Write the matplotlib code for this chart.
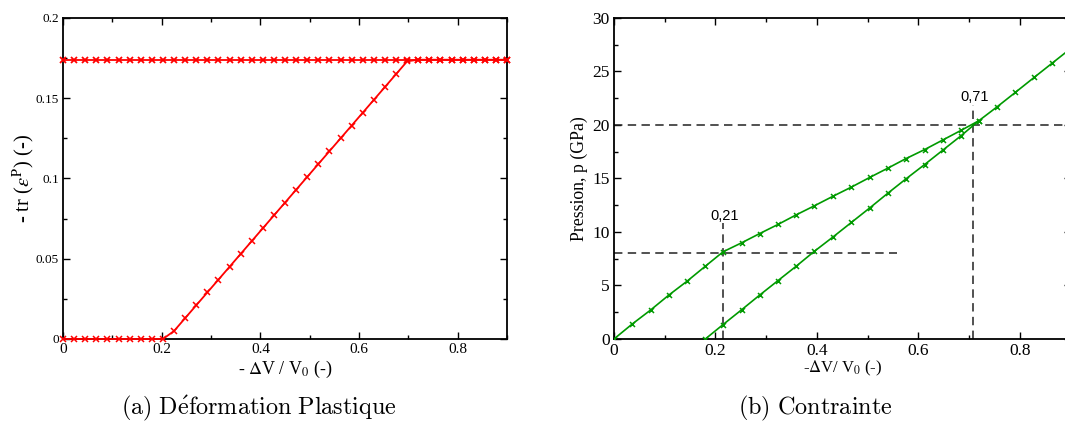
import matplotlib
matplotlib.use("Agg")
import matplotlib.pyplot as plt
from matplotlib.ticker import MultipleLocator

# --- Données (a) : déformation plastique ---
dv_a = [0, 0.0225, 0.045, 0.0675, 0.09, 0.1125, 0.135, 0.1575, 0.18, 0.2025,
        0.225, 0.2475, 0.27, 0.2925, 0.315, 0.3375, 0.36, 0.3825, 0.405, 0.4275,
        0.45, 0.4725, 0.495, 0.5175, 0.54, 0.5625, 0.585, 0.6075, 0.63, 0.6525,
        0.675, 0.6975, 0.72, 0.7425, 0.765, 0.7875, 0.81, 0.8325, 0.855, 0.8775, 0.9]
tr_haut = [0.174] * 41
tr_bas = ([0] * 10
          + [0.005, 0.013, 0.021, 0.029, 0.037, 0.045, 0.053, 0.061, 0.069, 0.077, 0.085,
             0.093, 0.101, 0.109, 0.117, 0.125, 0.133, 0.141, 0.149, 0.157, 0.165, 0.173]
          + [0.174] * 9)

# --- Données (b) : contrainte ---
dv_charge = [0, 0.036, 0.072, 0.108, 0.144, 0.180, 0.215, 0.252, 0.287, 0.323, 0.359,
             0.395, 0.432, 0.468, 0.504, 0.539, 0.575, 0.612, 0.648, 0.684, 0.719,
             0.755, 0.791, 0.828, 0.864, 0.9]
p_charge = [0, 1.4, 2.7, 4.1, 5.4, 6.8, 8.15, 9.0, 9.85, 10.7, 11.6, 12.45, 13.35,
            14.2, 15.1, 15.95, 16.85, 17.7, 18.6, 19.5, 20.4, 21.7, 23.05, 24.45, 25.8, 27.15]
dv_second = [0.180, 0.215, 0.252, 0.287, 0.323, 0.359, 0.395, 0.432, 0.468, 0.504,
             0.539, 0.575, 0.612, 0.648, 0.684, 0.719]
p_second = [0, 1.35, 2.75, 4.1, 5.45, 6.8, 8.2, 9.55, 10.9, 12.25, 13.6, 14.95,
            16.3, 17.65, 19.0, 20.4]

# repères pointillés : (x, p, étiquette, fin de la ligne horizontale, haut de la verticale)
reperes_x = [0.215, 0.707]
reperes_p = [8, 20]
reperes_txt = ["0,21", "0,71"]
reperes_xfin = [0.557, 0.9]
reperes_ptop = [10.85, 21.9]

ROUGE = "#ff0000"
VERT = "#009a00"
SERIF = "Liberation Serif"

plt.rcParams["font.family"] = SERIF
plt.rcParams["mathtext.fontset"] = "stix"


def style_axes(ax, taille_x, taille_y):
    for spine in ax.spines.values():
        spine.set_linewidth(1.3)
    ax.tick_params(which="both", direction="in", top=True, right=True, width=1.0, pad=3)
    ax.tick_params(which="major", length=5)
    ax.tick_params(which="minor", length=3)
    ax.tick_params(axis="x", labelsize=taille_x)
    ax.tick_params(axis="y", labelsize=taille_y)


fig = plt.figure(figsize=(10.65, 4.22), dpi=100)

# (a)
ax1 = fig.add_axes([0.0592, 0.1967, 0.4169, 0.7607])
ax1.plot(dv_a, tr_haut, color=ROUGE, lw=1.3, marker="x", ms=4.5, mew=1.3, clip_on=False, zorder=3)
ax1.plot(dv_a, tr_bas, color=ROUGE, lw=1.3, marker="x", ms=4.5, mew=1.1, clip_on=False, zorder=3)
ax1.set_xlim(0, 0.9)
ax1.set_ylim(0, 0.2)
ax1.xaxis.set_major_locator(MultipleLocator(0.2))
ax1.xaxis.set_minor_locator(MultipleLocator(0.1))
ax1.yaxis.set_major_locator(MultipleLocator(0.05))
ax1.yaxis.set_minor_locator(MultipleLocator(0.025))
ax1.xaxis.set_major_formatter(plt.FuncFormatter(lambda v, p: f"{v:g}"))
ax1.yaxis.set_major_formatter(plt.FuncFormatter(lambda v, p: f"{v:g}"))
style_axes(ax1, 11, 9.5)
ax1.set_xlabel(r"- $\Delta$V / V$_0$ (-)", fontsize=13, labelpad=2)
ax1.set_ylabel(r"- tr ($\varepsilon^{\mathrm{P}}$) (-)", fontsize=14.8, labelpad=0)

# (b)
ax2 = fig.add_axes([0.5765, 0.1967, 0.4289, 0.7607])
ax2.plot(dv_charge, p_charge, color=VERT, lw=1.2, marker="x", ms=3.6, mew=1.1, zorder=3)
ax2.plot(dv_second, p_second, color=VERT, lw=1.2, marker="x", ms=3.6, mew=1.1, zorder=3)
for x, p, txt, xfin, ptop in zip(reperes_x, reperes_p, reperes_txt, reperes_xfin, reperes_ptop):
    ax2.plot([0, xfin], [p, p], color="#222222", lw=1.1, ls=(0, (5.5, 3.5)), zorder=2)
    ax2.plot([x, x], [0, ptop], color="#222222", lw=1.1, ls=(0, (5.5, 3.5)), zorder=2)
    ax2.text(x + 0.004, ptop + 0.3, txt, ha="center", va="baseline",
             family="Liberation Sans", fontsize=10.5)
ax2.set_xlim(0, 0.9)
ax2.set_ylim(0, 30)
ax2.xaxis.set_major_locator(MultipleLocator(0.2))
ax2.xaxis.set_minor_locator(MultipleLocator(0.1))
ax2.yaxis.set_major_locator(MultipleLocator(5))
ax2.yaxis.set_minor_locator(MultipleLocator(2.5))
ax2.xaxis.set_major_formatter(plt.FuncFormatter(lambda v, p: f"{v:g}"))
style_axes(ax2, 12.5, 12.5)
ax2.set_xlabel(r"-$\Delta$V/ V$_0$ (-)", fontsize=12, labelpad=0)
ax2.set_ylabel("Pression, p (GPa)", fontsize=12.8, labelpad=3)

# légendes des sous-figures
fig.text(259 / 1065, 1 - 408 / 422, r"$\mathrm{(a)\ D\acute{e}formation\ Plastique}$",
         ha="center", va="center", fontsize=17.4, math_fontfamily="cm")
fig.text(815 / 1065, 1 - 408 / 422, r"$\mathrm{(b)\ Contrainte}$",
         ha="center", va="center", fontsize=17.4, math_fontfamily="cm")

fig.savefig("out.png", dpi=100)
